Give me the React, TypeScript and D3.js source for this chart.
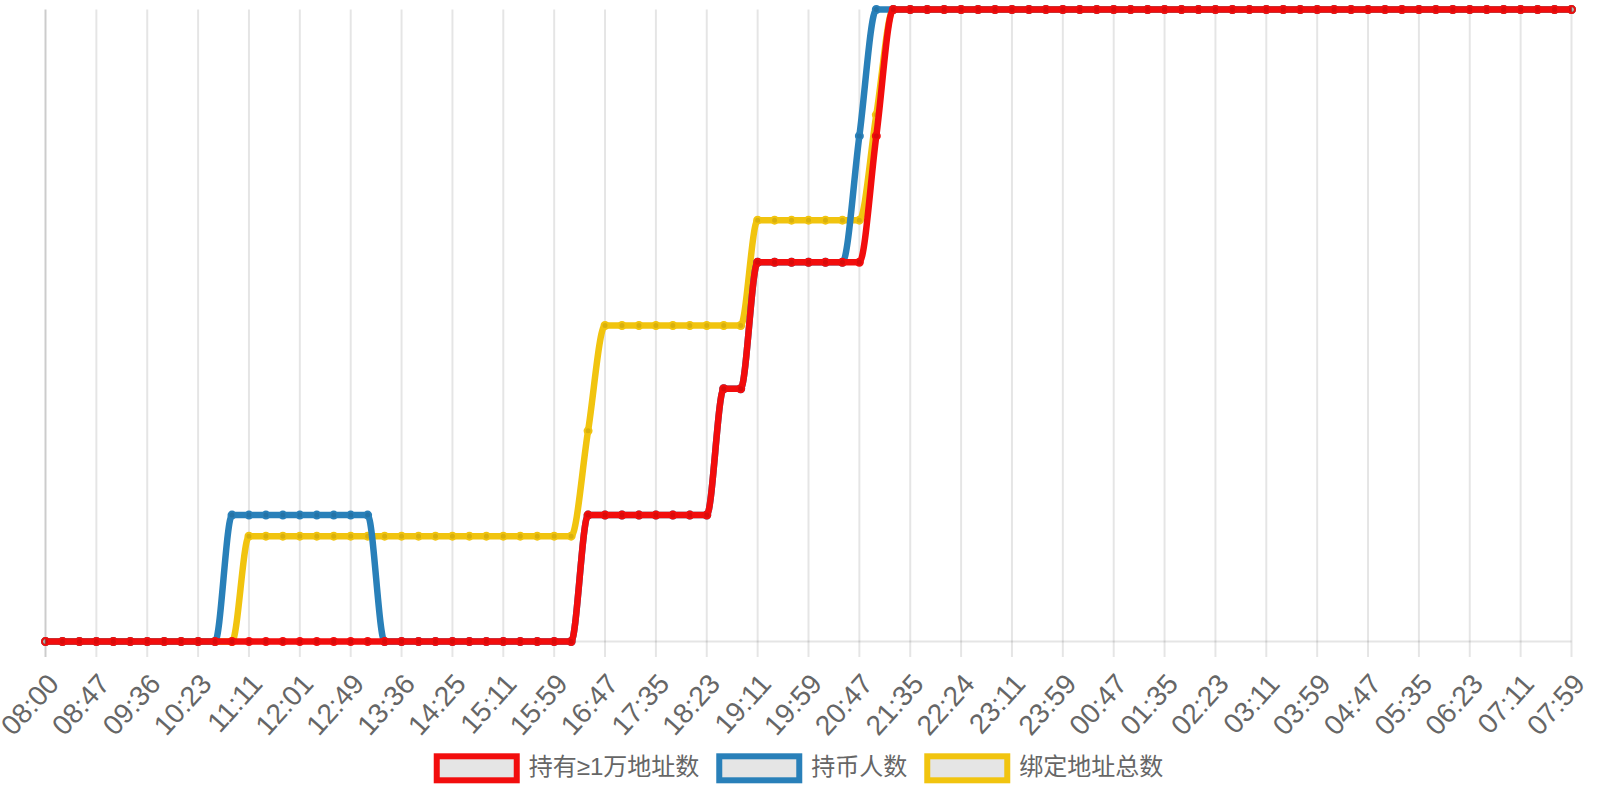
import { useEffect, useRef } from 'react';
import * as d3 from 'd3';

// x-axis tick labels (one every third sample)
const tickLabels = [
	'08:00', '08:47', '09:36', '10:23', '11:11', '12:01', '12:49', '13:36', '14:25', '15:11', '15:59',
	'16:47', '17:35', '18:23', '19:11', '19:59', '20:47', '21:35', '22:24', '23:11', '23:59', '00:47',
	'01:35', '02:23', '03:11', '03:59', '04:47', '05:35', '06:23', '07:11', '07:59',
];

// 持有≥1万地址数
const holders10k = [
	0, 0, 0, 0, 0, 0, 0, 0, 0, 0,
	0, 0, 0, 0, 0, 0, 0, 0, 0, 0,
	0, 0, 0, 0, 0, 0, 0, 0, 0, 0,
	0, 0, 1, 1, 1, 1, 1, 1, 1, 1,
	2, 2, 3, 3, 3, 3, 3, 3, 3, 4,
	5, 5, 5, 5, 5, 5, 5, 5, 5, 5,
	5, 5, 5, 5, 5, 5, 5, 5, 5, 5,
	5, 5, 5, 5, 5, 5, 5, 5, 5, 5,
	5, 5, 5, 5, 5, 5, 5, 5, 5, 5,
	5,
];

// 持币人数
const coinHolders = [
	0, 0, 0, 0, 0, 0, 0, 0, 0, 0,
	0, 1, 1, 1, 1, 1, 1, 1, 1, 1,
	0, 0, 0, 0, 0, 0, 0, 0, 0, 0,
	0, 0, 1, 1, 1, 1, 1, 1, 1, 1,
	2, 2, 3, 3, 3, 3, 3, 3, 4, 5,
	5, 5, 5, 5, 5, 5, 5, 5, 5, 5,
	5, 5, 5, 5, 5, 5, 5, 5, 5, 5,
	5, 5, 5, 5, 5, 5, 5, 5, 5, 5,
	5, 5, 5, 5, 5, 5, 5, 5, 5, 5,
	5,
];

// 绑定地址总数
const boundAddresses = [
	0, 0, 0, 0, 0, 0, 0, 0, 0, 0,
	0, 0, 1, 1, 1, 1, 1, 1, 1, 1,
	1, 1, 1, 1, 1, 1, 1, 1, 1, 1,
	1, 1, 2, 3, 3, 3, 3, 3, 3, 3,
	3, 3, 4, 4, 4, 4, 4, 4, 4, 5,
	6, 6, 6, 6, 6, 6, 6, 6, 6, 6,
	6, 6, 6, 6, 6, 6, 6, 6, 6, 6,
	6, 6, 6, 6, 6, 6, 6, 6, 6, 6,
	6, 6, 6, 6, 6, 6, 6, 6, 6, 6,
	6,
];

const seriesNames = ['持有≥1万地址数', '持币人数', '绑定地址总数'];
const seriesColors = ['#f20d0d', '#2980b9', '#f1c40f'];

const WIDTH = 1600;
const HEIGHT = 800;

export default function App() {
	const svgRef = useRef<SVGSVGElement>(null);

	useEffect(() => {
		if (!svgRef.current) return;
		const svg = d3.select(svgRef.current);
		svg.selectAll('*').remove();

		const area = { left: 45.5, right: 1571.5, top: 9.5, bottom: 641.5 };
		const font = '"Liberation Sans", Arial, "Noto Sans CJK SC", sans-serif';
		const seriesData = [holders10k, coinHolders, boundAddresses];

		const xScale = d3
			.scalePoint<number>()
			.domain(d3.range(holders10k.length))
			.range([area.left, area.right]);

		const tickIdx = tickLabels.map((_, k) => k * 3);

		// vertical grid lines
		svg
			.append('g')
			.selectAll('line')
			.data(tickIdx)
			.enter()
			.append('line')
			.attr('x1', (d) => xScale(d)!)
			.attr('x2', (d) => xScale(d)!)
			.attr('y1', area.top)
			.attr('y2', 657)
			.attr('stroke', (d) => (d === 0 ? 'rgba(0,0,0,0.2)' : 'rgba(0,0,0,0.1)'))
			.attr('stroke-width', 2);

		// axis base line
		svg
			.append('line')
			.attr('x1', area.left)
			.attr('x2', area.right)
			.attr('y1', area.bottom)
			.attr('y2', area.bottom)
			.attr('stroke', 'rgba(0,0,0,0.1)')
			.attr('stroke-width', 2);

		// x labels
		const xAxis = svg
			.append('g')
			.attr('transform', 'translate(0,680)')
			.call(
				d3
					.axisBottom(xScale)
					.tickValues(tickIdx)
					.tickSize(0)
					.tickFormat((d) => tickLabels[(d as number) / 3])
			);
		xAxis.select('.domain').remove();
		xAxis
			.selectAll('text')
			.attr('x', 9)
			.attr('y', 0)
			.attr('dy', null)
			.attr('dominant-baseline', 'middle')
			.attr('text-anchor', 'end')
			.attr('transform', 'rotate(-48, 9, 0)')
			.style('font-family', font)
			.style('font-size', '28px')
			.attr('fill', '#666');

		// lines, drawn with the first series on top
		for (let s = seriesData.length - 1; s >= 0; s--) {
			const values = seriesData[s];
			const color = seriesColors[s];
			const yScale = d3
				.scaleLinear()
				.domain([0, d3.max(values) || 1])
				.range([area.bottom, area.top]);

			const line = d3
				.line<number>()
				.x((_, i) => xScale(i)!)
				.y((d) => yScale(d))
				.curve(d3.curveMonotoneX);

			svg
				.append('path')
				.datum(values)
				.attr('d', line)
				.attr('fill', 'none')
				.attr('stroke', color)
				.attr('stroke-width', 6.5);

			svg
				.append('g')
				.selectAll('circle')
				.data(values)
				.enter()
				.append('circle')
				.attr('cx', (_, i) => xScale(i)!)
				.attr('cy', (d) => yScale(d))
				.attr('r', 3.5)
				.attr('fill', 'rgba(0,0,0,0.1)')
				.attr('stroke', color)
				.attr('stroke-width', 2);
		}

		// legend
		const legend = svg.append('g');
		const items = seriesNames.map((name, i) => {
			const g = legend.append('g');
			g.append('rect')
				.attr('width', 80)
				.attr('height', 24)
				.attr('fill', 'rgba(0,0,0,0.1)')
				.attr('stroke', seriesColors[i])
				.attr('stroke-width', 6);
			const t = g
				.append('text')
				.attr('x', 92)
				.attr('y', 12)
				.attr('dominant-baseline', 'middle')
				.style('font-family', font)
				.style('font-size', '24px')
				.attr('fill', '#666')
				.text(name);
			const tw = (t.node() as SVGTextElement).getComputedTextLength();
			return { g, w: 92 + tw };
		});
		const total = d3.sum(items, (d) => d.w) + 20 * (items.length - 1);
		let cx = (WIDTH - total) / 2;
		items.forEach((it) => {
			it.g.attr('transform', `translate(${cx},756.3)`);
			cx += it.w + 20;
		});
	}, []);

	return (
		<svg
			ref={svgRef}
			width={WIDTH}
			height={HEIGHT}
			style={{ position: 'absolute', left: 0, top: 0, display: 'block', background: '#fff' }}
		/>
	);
}
